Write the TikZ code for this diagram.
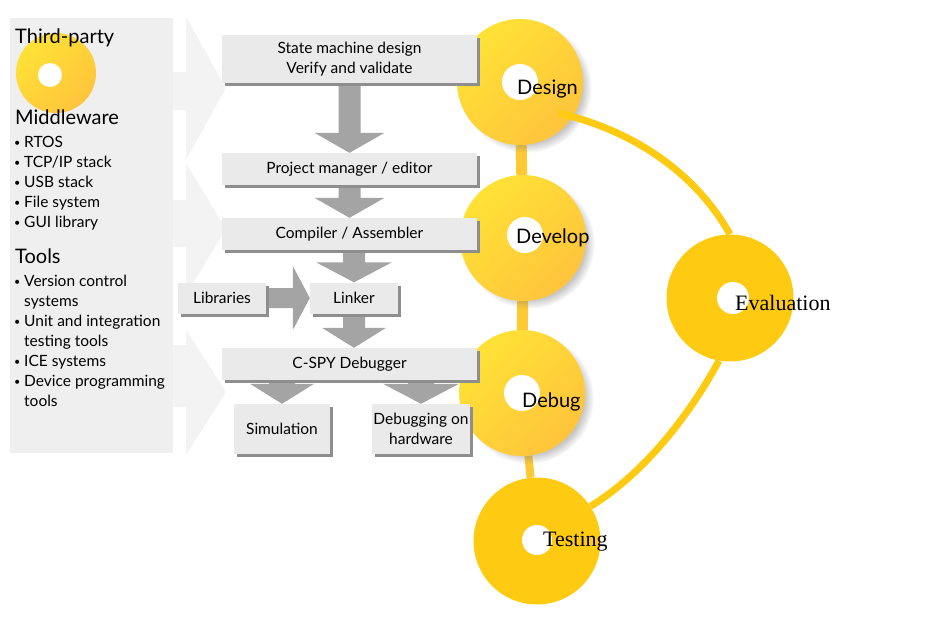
\documentclass[tikz,border=0pt]{standalone}
\usepackage{fontspec}
\setmainfont{Lato}
\newfontfamily\timesfont{Liberation Serif}
\usepackage{tikz}
\usetikzlibrary{calc, shadows, backgrounds}

\definecolor{panelgray}{HTML}{EFEFEF}
\definecolor{chevrongray}{HTML}{F3F3F3}
\definecolor{boxgray}{HTML}{EAEAEA}
\definecolor{boxshadow}{HTML}{8E8E8E}
\definecolor{blockgray}{HTML}{A4A4A4}
\definecolor{sunlight}{HTML}{FFE236}
\definecolor{sundark}{HTML}{FFC43C}
\definecolor{sunflat}{HTML}{FFCA12}
\definecolor{sunbar}{HTML}{FFC933}

% small bullet for the lists
\newcommand{\bull}{\makebox[10pt][l]{\raisebox{1pt}{\scalebox{0.7}{\textbullet}}}}

% Block arrow pointing down: start, tip, shaft half width, head half width.
\newcommand{\blockdown}[4]{%
  \fill[blockgray] ($(#1)+(-#3,0)$) -- ($(#2)+(-#3,-20)$) -- ($(#2)+(-#4,-20)$)
    -- (#2) -- ($(#2)+(#4,-20)$) -- ($(#2)+(#3,-20)$) -- ($(#1)+(#3,0)$) -- cycle;}

% Block arrow pointing right: start, tip, shaft half width, head half width.
\newcommand{\blockright}[4]{%
  \fill[blockgray] ($(#1)+(0,-#3)$) -- ($(#2)+(-17,-#3)$) -- ($(#2)+(-17,-#4)$)
    -- (#2) -- ($(#2)+(-17,#4)$) -- ($(#2)+(-17,#3)$) -- ($(#1)+(0,#3)$) -- cycle;}

\begin{document}
\begin{tikzpicture}[x=1pt, y=-1pt,
    heading/.style={anchor=base west, inner sep=0pt, font=\fontsize{20}{24}\selectfont},
    listitem/.style={anchor=base west, inner sep=0pt, font=\fontsize{15.5}{20}\selectfont},
    toolbox/.style={fill=boxgray, align=center, inner sep=0pt,
      font=\fontsize{15.5}{20}\selectfont,
      drop shadow={shadow xshift=3pt, shadow yshift=-3pt, fill=boxshadow, opacity=1}},
    sunbig/.style={circle, minimum size=126pt, inner sep=0pt,
      top color=sunlight, bottom color=sundark, shading angle=45,
      circular drop shadow={shadow xshift=6pt, shadow yshift=-5pt, shadow scale=1.04, opacity=0.45}},
    sunplain/.style={circle, minimum size=127pt, inner sep=0pt, fill=sunflat},
    hole/.style={circle, fill=white, inner sep=0pt, minimum size=36pt},
    sunlabel/.style={anchor=base west, inner sep=0pt, font=\fontsize{20}{24}\selectfont},
    seriflabel/.style={anchor=base west, inner sep=0pt, font=\timesfont\fontsize{22}{26}\selectfont},
    suncurve/.style={draw=sunflat, line width=7pt}]
  \useasboundingbox (0,0) rectangle (928,629);

  % Draw left panel and the pale arrows beside it.
  \fill[panelgray] (10,18) rectangle (173,453);
  \fill[chevrongray] (173,72) -- (186,72) -- (186,17) -- (226,88) -- (186,160)
    -- (186,110) -- (173,110) -- cycle;
  \fill[chevrongray] (173,200) -- (186,200) -- (186,163) -- (226,229) -- (186,295)
    -- (186,247) -- (173,247) -- cycle;
  \fill[chevrongray] (173,345) -- (186,345) -- (186,330) -- (226,392) -- (186,455)
    -- (186,407) -- (173,407) -- cycle;

  % Third-party disc.
  \node[circle, minimum size=80pt, inner sep=0pt, top color=sunlight, bottom color=sundark,
    shading angle=45] (thirdsun) at (56,73) {};
  \node[hole, minimum size=24pt] (thirdhole) at (50,75) {};

  % Left column text.
  \node[heading] (thirdparty) at (15,43) {Third-party};
  \node[heading] (middleware) at (15,124) {Middleware};
  \node[listitem] (rtos) at (14,147) {\bull RTOS};
  \node[listitem] (tcpip) at (14,167) {\bull TCP/IP stack};
  \node[listitem] (usb) at (14,187) {\bull USB stack};
  \node[listitem] (filesys) at (14,207) {\bull File system};
  \node[listitem] (gui) at (14,227) {\bull GUI library};
  \node[heading] (tools) at (15,263) {Tools};
  \node[listitem] (version) at (14,286) {\bull Version control};
  \node[listitem] (versionb) at (24,306) {systems};
  \node[listitem] (unit) at (14,326) {\bull Unit and integration};
  \node[listitem] (unitb) at (24,346) {testing tools};
  \node[listitem] (ice) at (14,366) {\bull ICE systems};
  \node[listitem] (device) at (14,386) {\bull Device programming};
  \node[listitem] (deviceb) at (24,406) {tools};

  % Draw the yellow discs.
  \node[sunbig] (design) at (520,82) {};
  \node[sunbig] (develop) at (523,238) {};
  \node[sunbig] (debug) at (522,393) {};
  \node[sunplain] (testing) at (537,541) {};
  \node[sunplain] (evaluation) at (730,298) {};

  \node[hole] (designhole) at (520,82) {};
  \node[hole] (develophole) at (525,235) {};
  \node[hole] (debughole) at (522,393) {};
  \node[hole, minimum size=30pt] (testinghole) at (537,540) {};
  \node[hole, minimum size=32pt] (evaluationhole) at (733,298) {};

  \node[sunlabel] (designlbl) at (517,94) {Design};
  \node[sunlabel] (developlbl) at (516,243) {Develop};
  \node[sunlabel] (debuglbl) at (522,407) {Debug};
  \node[seriflabel] (evaluationlbl) at (735,310) {Evaluation};
  \node[seriflabel] (testinglbl) at (543,546) {Testing};

  % Links between the discs.
  \begin{scope}[on background layer]
    \draw[sunbar, line width=11pt] (design) -- (develop);
    \draw[sunbar, line width=11pt] (develop) -- (debug);
    \draw[sunbar, line width=8pt] (debug) -- (testing);
  \end{scope}
  \draw[suncurve] ($(design)!0.78!(design.-39)$) .. controls (615,126) and (688,160) .. (evaluation.north);
  \draw[suncurve] (evaluation.-100) .. controls (695,405) and (650,470) .. (testing.33);

  % Tool chain boxes.
  \node[toolbox, minimum width=255pt, minimum height=48pt] (statebox) at (349.5,59)
    {State machine design\\Verify and validate};
  \node[toolbox, minimum width=255pt, minimum height=32pt] (projbox) at (349.5,169)
    {Project manager / editor};
  \node[toolbox, minimum width=255pt, minimum height=32pt] (compbox) at (349.5,234)
    {Compiler / Assembler};
  \node[toolbox, minimum width=88pt, minimum height=31pt] (libbox) at (222,298) {Libraries};
  \node[toolbox, minimum width=88pt, minimum height=31pt] (linker) at (354,298) {Linker};
  \node[toolbox, minimum width=255pt, minimum height=32pt] (cspy) at (349.5,364)
    {C-SPY Debugger};
  \node[toolbox, minimum width=96pt, minimum height=50pt] (simbox) at (282,429) {Simulation};
  \node[toolbox, minimum width=98pt, minimum height=50pt] (hwbox) at (421,429)
    {Debugging on\\hardware};

  % Gray arrows between the boxes.
  \coordinate (linktop) at (compbox.south -| linker.north);
  \coordinate (linkbottom) at (cspy.north -| linker.south);
  \coordinate (simtop) at (cspy.south -| simbox.north);
  \coordinate (hwtop) at (cspy.south -| hwbox.north);
  \begin{scope}[on background layer]
    \blockdown{statebox.south}{projbox.north}{11}{35}
    \blockdown{projbox.south}{compbox.north}{11}{35}
    \blockdown{linktop}{linker.north}{11}{38}
    \blockdown{linker.south}{linkbottom}{11}{32}
    \blockdown{simtop}{simbox.north}{13}{32}
    \blockdown{hwtop}{hwbox.north}{13}{38}
    \blockright{libbox.east}{linker.west}{10}{32}
  \end{scope}
\end{tikzpicture}
\end{document}
